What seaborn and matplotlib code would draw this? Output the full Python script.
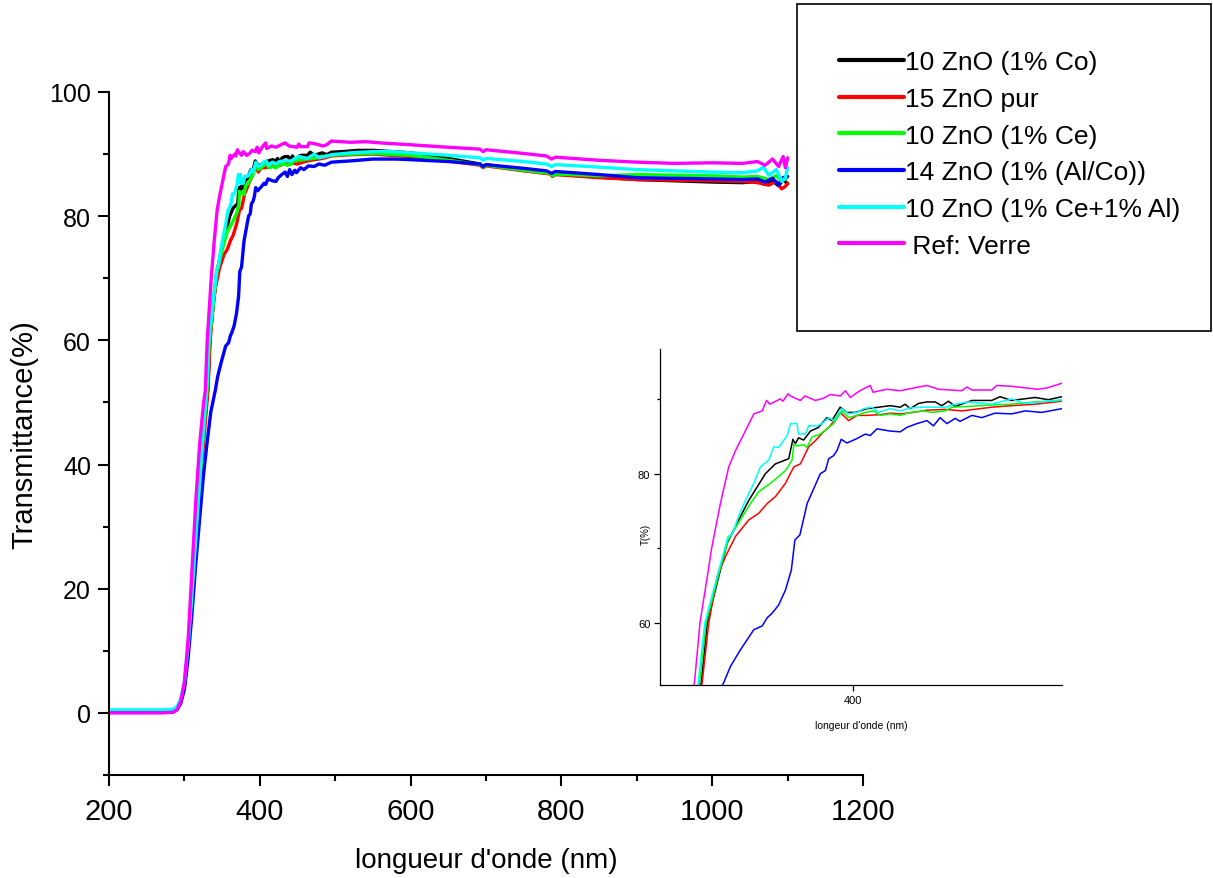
import numpy as np
import pandas as pd
import seaborn as sns
import matplotlib.pyplot as plt
from matplotlib.lines import Line2D
from matplotlib.patches import Rectangle
from matplotlib.ticker import MultipleLocator

# sample names (legend order) and colours
samples = ["10 ZnO (1% Co)", "15 ZnO pur", "10 ZnO (1% Ce)",
           "14 ZnO (1% (Al/Co))", "10 ZnO (1% Ce+1% Al)", " Ref: Verre"]
colors = ["#000000", "#ff0000", "#00ff00", "#0000ff", "#00ffff", "#ff00ff"]

# wavelength (nm) / transmittance (%)
wl_co = [200, 240, 270, 285, 290, 295, 300, 305, 310, 315, 320, 325,
         330.8, 333.5, 339.5, 342.6, 349.4, 352.4, 356.2, 360.0, 364.5, 370.6, 372.5, 373.6,
         375.1, 377.4, 380.5, 384.2, 388.0, 390.3, 394.0, 397.1, 400.9, 406.2, 411.5, 416.8,
         421.4, 423.6, 425.9, 429.7, 433.5, 437.3, 440.3, 443.3, 446.4, 454.0, 463.0, 466.8,
         472.1, 482.7, 488.8, 494.9,
         510, 530, 550, 575, 600, 650, 692, 696, 700, 750, 785, 788, 792, 850, 900, 950,
         1000, 1040, 1060, 1070, 1080, 1088, 1094, 1100]
t_co = [0.1, 0.1, 0.1, 0.2, 0.6, 1.8, 4.5, 10.5, 18.5, 27.5, 36.5, 45,
        52, 60, 67.1, 70.7, 74.7, 76.4, 78.2, 80.0, 81.3, 82.0, 84.6, 84.0,
        84.8, 84.5, 85.7, 86.2, 87.5, 87.1, 88.9, 88.2, 88.2, 88.7, 88.9, 89.1,
        88.9, 89.3, 88.7, 89.4, 89.6, 89.6, 89.1, 89.7, 89.0, 89.8, 89.8, 90.3,
        89.8, 90.2, 89.9, 90.3,
        90.4, 90.6, 90.6, 90.4, 90.2, 89.3, 88.4, 88.0, 88.3, 87.4, 86.9, 86.5, 86.8, 86.3, 85.9, 85.7,
        85.5, 85.4, 85.6, 85.1, 85.7, 84.9, 85.9, 85.2]

wl_pur = [200, 240, 270, 285, 290, 295, 300, 305, 310, 315, 320, 325,
          331.2, 334.2, 338.0, 341.8, 346.4, 352.4, 357.0, 360.8, 364.5, 369.1, 372.9, 375.9,
          379.7, 382.7, 386.5, 389.5, 394.0, 397.9, 401.7, 406.2, 412.3, 416.8, 421.4, 427.4,
          433.5, 441.8, 449.4, 463.0, 472.1, 482.7, 494.9,
          520, 550, 600, 650, 692, 696, 700, 750, 785, 788, 792, 850, 900, 950,
          1000, 1040, 1060, 1075, 1085, 1092, 1097, 1100]
t_pur = [0.1, 0.1, 0.1, 0.2, 0.6, 1.7, 4.3, 10, 17.5, 26, 34.5, 43,
         52, 60, 66.2, 68.9, 71.6, 73.8, 74.7, 76.0, 76.9, 78.7, 80.9, 81.3,
         83.6, 84.4, 85.6, 86.4, 88.2, 87.1, 87.8, 87.8, 87.9, 88.1, 88.0, 88.2,
         88.5, 88.6, 88.4, 88.9, 89.1, 89.3, 89.7,
         89.9, 90.0, 89.6, 88.9, 88.2, 87.8, 88.1, 87.3, 86.8, 86.4, 86.7, 86.2, 85.9, 85.8,
         85.7, 85.6, 85.4, 85.0, 85.6, 84.4, 84.8, 85.3]

wl_ce = [200, 240, 270, 285, 290, 295, 300, 305, 310, 315, 320, 325,
         330.0, 333.0, 339.2, 343.0, 349.4, 353.2, 357.0, 362.3, 369.1, 372.1, 373.0, 374.4,
         377.4, 378.9, 381.2, 385.0, 388.0, 391.0, 394.8, 397.9, 401.7, 405.5, 409.2, 412.3,
         416.8, 421.4, 425.9, 432.0, 435.8, 441.8, 444.9, 452.4, 463.0, 472.1, 482.7, 494.9,
         520, 550, 600, 650, 692, 696, 700, 750, 785, 788, 792, 850, 900, 950,
         1000, 1040, 1060, 1075, 1085, 1092, 1100]
t_ce = [0.1, 0.1, 0.1, 0.2, 0.6, 1.8, 4.5, 10.5, 18.5, 27.5, 36.5, 45,
        52, 60, 67.1, 71.1, 74.2, 76.0, 77.6, 78.7, 80.4, 81.8, 84.0, 83.7,
        83.9, 83.5, 84.9, 85.3, 86.0, 86.7, 88.4, 87.5, 87.8, 88.2, 88.4, 87.8,
        88.0, 87.8, 88.2, 88.4, 88.2, 88.4, 88.9, 89.0, 89.2, 89.3, 89.6, 89.8,
        90.0, 90.1, 89.8, 89.0, 88.3, 87.9, 88.2, 87.4, 86.9, 86.5, 86.8, 86.5, 86.7, 86.6,
        86.5, 86.3, 86.4, 85.9, 86.5, 85.6, 86.3]

wl_alco = [200, 240, 270, 285, 290, 295, 300, 305, 310, 315, 320, 325, 330, 335,
           341.0, 344.1, 348.6, 354.7, 358.5, 360.8, 363.0, 366.0, 369.1, 371.8, 373.4, 375.7,
           379.0, 382.0, 385.0, 387.3, 388.8, 391.0, 392.6, 394.5, 397.1, 401.7, 405.5, 407.7,
           410.8, 416.8, 421.4, 424.4, 429.0, 433.5, 436.5, 439.5, 442.6, 446.4, 448.6, 454.0,
           458.5, 464.5, 472.1, 478.2, 485.8, 494.9,
           520, 550, 580, 600, 650, 692, 696, 700, 750, 780, 787, 792, 850, 900, 950,
           1000, 1040, 1060, 1070, 1080, 1088, 1094, 1100]
t_alco = [0.1, 0.1, 0.1, 0.2, 0.5, 1.5, 3.8, 9, 16, 24, 31, 38, 43.5, 48.5,
          52, 54.2, 56.4, 59.1, 59.6, 60.7, 61.3, 62.4, 64.4, 67.1, 71.1, 71.8,
          76.0, 78.0, 80.0, 80.4, 82.0, 82.4, 83.1, 84.6, 84.1, 84.7, 85.3, 85.1,
          86.0, 85.7, 85.6, 86.2, 86.7, 87.1, 86.4, 87.5, 86.7, 87.4, 87.0, 87.8,
          87.5, 88.1, 88.0, 88.4, 88.2, 88.7,
          88.9, 89.2, 89.2, 89.1, 88.8, 88.4, 88.0, 88.3, 87.7, 87.3, 86.9, 87.2, 86.7, 86.2, 86.1,
          86.0, 85.9, 86.0, 85.5, 86.1, 85.0, 86.2, 86.4]

wl_ceal = [200, 240, 270, 285, 290, 295, 300, 305, 310, 315, 320, 325,
           329.4, 332.4, 338.8, 343.0, 344.9, 347.6, 350.9, 354.7, 357.7, 361.5, 363.8, 366.0,
           369.9, 371.4, 374.4, 375.0, 378.2, 379.7, 383.5, 385.8, 388.8, 391.0, 394.8, 397.9,
           401.7, 404.7, 408.5, 411.5, 416.8, 421.4, 425.9, 432.0, 441.8, 446.4, 452.4, 463.0,
           472.1, 478.2, 485.8, 494.9,
           520, 550, 575, 600, 650, 692, 696, 700, 750, 780, 787, 792, 850, 900, 950,
           1000, 1040, 1060, 1068, 1075, 1085, 1092, 1097, 1100]
t_ceal = [0.5, 0.5, 0.5, 0.6, 1.0, 2.2, 5, 11, 19, 28, 37, 45.5,
          52, 60, 67.1, 71.6, 71.8, 74.2, 76.4, 78.7, 80.9, 81.8, 83.6, 83.5,
          85.1, 86.7, 86.7, 85.3, 85.3, 86.4, 86.4, 86.7, 87.5, 87.1, 88.7, 88.0,
          88.2, 88.7, 88.9, 88.2, 88.7, 88.4, 88.8, 88.9, 88.9, 89.3, 89.6, 89.3,
          90.0, 89.4, 89.6, 89.9,
          90.2, 90.4, 90.4, 90.2, 89.8, 89.4, 89.0, 89.3, 88.8, 88.4, 88.0, 88.3, 87.9, 87.5, 87.3,
          87.1, 87.0, 87.3, 87.9, 86.6, 87.5, 85.6, 86.2, 87.8]

wl_ref = [200, 240, 270, 285, 290, 295, 300, 305, 310, 315, 320, 325,
          327.7, 330.2, 334.0, 335.5, 339.5, 343.3, 346.4, 351.0, 354.7, 358.5, 360.5, 362.0,
          366.8, 368.0, 370.3, 371.4, 375.9, 378.0, 382.7, 386.5, 389.5, 394.0, 396.4, 398.6,
          403.0, 407.7, 409.0, 415.3, 421.4, 429.7, 433.5, 438.8, 449.4, 451.7, 454.0, 463.0,
          465.3, 472.0, 484.0, 488.6, 494.9,
          520, 540, 560, 600, 650, 692, 696, 700, 750, 780, 787, 792, 850, 900, 950,
          1000, 1040, 1060, 1070, 1080, 1088, 1094, 1097, 1100]
t_ref = [0.0, 0.0, 0.0, 0.1, 0.5, 1.8, 5, 12, 23, 34, 43, 49.5,
         52, 60, 67.1, 70, 76, 80.9, 83.1, 85.8, 88.0, 88.4, 89.8, 89.3,
         90.0, 89.7, 90.7, 90.4, 89.8, 90.4, 89.8, 90.1, 90.6, 90.4, 91.1, 90.2,
         91.1, 91.8, 90.9, 91.3, 91.1, 91.6, 91.8, 91.3, 91.1, 91.6, 91.2, 91.2,
         91.8, 91.7, 91.3, 91.5, 92.1,
         91.9, 92.0, 91.8, 91.5, 91.1, 90.8, 90.4, 90.7, 90.1, 89.7, 89.2, 89.5, 89.0, 88.7, 88.5,
         88.6, 88.5, 88.8, 88.2, 89.2, 88.0, 89.6, 87.8, 89.4]

series = [(wl_co, t_co), (wl_pur, t_pur), (wl_ce, t_ce),
          (wl_alco, t_alco), (wl_ceal, t_ceal), (wl_ref, t_ref)]
frames = []
for name, (w, t) in zip(samples, series):
    frames.append(pd.DataFrame({"wl": w, "T": t, "sample": name}))
df = pd.concat(frames, ignore_index=True)
palette = dict(zip(samples, colors))

sns.set_style("ticks")
plt.rcParams["font.family"] = ["Liberation Sans", "DejaVu Sans"]
plt.rcParams["text.color"] = "black"
plt.rcParams["axes.labelcolor"] = "black"
plt.rcParams["xtick.color"] = "black"
plt.rcParams["ytick.color"] = "black"
plt.rcParams["axes.edgecolor"] = "black"

fig = plt.figure(figsize=(12.13, 8.79), dpi=100)

# main panel
ax = fig.add_axes([0.0899, 0.1172, 0.6216, 0.777])
sns.lineplot(data=df, x="wl", y="T", hue="sample", hue_order=samples, palette=palette,
             estimator=None, sort=False, linewidth=2.4, legend=False, ax=ax)
ax.set_xlim(200, 1200)
ax.set_ylim(-10, 100)
ax.set_xticks(range(200, 1201, 200))
ax.set_yticks(range(0, 101, 20))
ax.xaxis.set_minor_locator(MultipleLocator(100))
ax.yaxis.set_minor_locator(MultipleLocator(10))
sns.despine(ax=ax)
for s in ["left", "bottom"]:
    ax.spines[s].set_linewidth(1.5)
ax.tick_params(which="major", length=8, width=1.5)
ax.tick_params(which="minor", length=4.5, width=1.5)
ax.tick_params(axis="x", which="major", labelsize=21, pad=8)
ax.tick_params(axis="y", which="major", labelsize=18, pad=5)
ax.set_xlabel("longueur d'onde (nm)", fontsize=20, labelpad=16)
ax.set_ylabel("Transmittance(%)", fontsize=21, labelpad=8)

# inset zoom on the absorption edge
ax2 = fig.add_axes([0.5441, 0.2196, 0.3314, 0.3823])
ax2.patch.set_alpha(0)
sns.lineplot(data=df, x="wl", y="T", hue="sample", hue_order=samples, palette=palette,
             estimator=None, sort=False, linewidth=1.1, legend=False, ax=ax2)
ax2.set_xlim(312, 495)
ax2.set_ylim(51.7, 96.7)
ax2.set_xticks([400])
ax2.set_yticks([60, 80])
ax2.set_yticks([70, 90], minor=True)
sns.despine(ax=ax2)
for s in ["left", "bottom"]:
    ax2.spines[s].set_linewidth(0.9)
ax2.tick_params(which="major", length=4, width=0.9, labelsize=8, pad=3)
ax2.tick_params(which="minor", length=2.5, width=0.9)
ax2.set_xlabel("longeur d'onde (nm)", fontsize=7.5, labelpad=11)
ax2.set_ylabel("T(%)", fontsize=7)
ax2.yaxis.set_label_coords(-0.022, 0.45)

# legend box
fig.patches.append(Rectangle((0.657, 0.6223), 0.3413, 0.372, transform=fig.transFigure,
                             fill=False, edgecolor="black", linewidth=1.2))
handles = [Line2D([], [], color=c, linewidth=3) for c in colors]
fig.legend(handles, samples, loc="upper left", bbox_to_anchor=(0.6917, 0.9416),
           frameon=False, fontsize=19, handlelength=2.45, handletextpad=0.05,
           labelspacing=0.48, borderpad=0, borderaxespad=0)

fig.savefig("out.png", dpi=100)
